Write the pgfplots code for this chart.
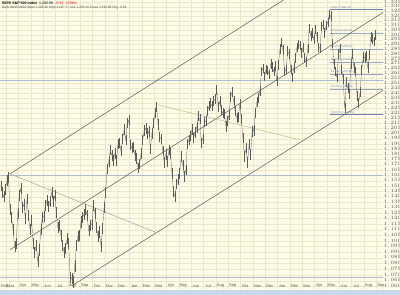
\documentclass[border=0pt]{standalone}
\usepackage{pgfplots}
\pgfplotsset{compat=1.18}
\usepackage{fontspec}
\setmainfont{Liberation Sans}
\definecolor{cream}{HTML}{FDFCE8}
\definecolor{gridc}{HTML}{ECE7C8}
\definecolor{hline}{HTML}{B0BCCB}
\definecolor{fibd}{HTML}{7080B0}
\definecolor{fibl}{HTML}{9AA6C2}
\definecolor{bars}{HTML}{5C5C58}
\definecolor{fanA}{HTML}{A0B4A8}
\definecolor{fanB}{HTML}{C4C894}
\definecolor{band}{HTML}{C9D9EC}
\begin{document}
\begin{tikzpicture}[x=1pt,y=1pt]
\useasboundingbox (0,0) rectangle (400,295);
\fill[cream] (0,0) rectangle (400,295);
\fill[band] (0,0) rectangle (400,5);
\begin{axis}[
  at={(0pt,6pt)}, anchor=south west,
  scale only axis, width=383pt, height=289pt,
  xmin=0.5, xmax=31.54, ymode=log, ymin=1058, ymax=1337.5,
  axis line style={draw=none},
  major tick length=0pt, minor tick length=0pt,
  xtick={1,...,31},
  xticklabels={Mar,Apr,May,Jun,Jul,Aug,Sep,Oct,Nov,Dec,Jan,Feb,Mar,Apr,May,Jun,Jul,Aug,Sep,Oct,Nov,Dec,Jan,Feb,Mar,Apr,May,Jun,Jul,Aug,Sep},
  xticklabel style={anchor=south, xshift=4.5pt, inner sep=1pt, font=\fontsize{4}{4.5}\selectfont, text=black!65},
  extra x ticks={0.52}, extra x tick labels={Feb}, extra x tick style={xmajorgrids=false},
  ytick={1060,1065,...,1335},
  yticklabel pos=right,
  yticklabel style={anchor=west, inner sep=0.6pt, font=\fontsize{3.4}{3.8}\selectfont, text=black!70},
  yticklabel={\pgfkeys{/pgf/fpu=true}\pgfmathparse{exp(\tick)}\pgfmathprintnumber[fixed,precision=0,1000 sep={,}]{\pgfmathresult}},
  xmajorgrids, ymajorgrids, grid style={gridc, line width=0.4pt},
  clip=true,
]
% horizontal support lines
\addplot[hline, line width=1pt] coordinates {(0.5,1252.4) (31.6,1252.4)};
\addplot[hline, line width=1pt] coordinates {(0.5,1159.6) (31.6,1159.6)};
\addplot[hline, line width=1pt] coordinates {(0.5,1068) (31.6,1068)};
% fibonacci lines
\addplot[fibd, line width=0.9pt] coordinates {(27.24,1326.7) (31.6,1326.7)};
\addplot[fibl, line width=0.7pt] coordinates {(27.24,1302.2) (31.6,1302.2)};
\addplot[fibl, line width=0.7pt] coordinates {(27.24,1285.4) (31.6,1285.4)};
\addplot[fibl, line width=0.7pt] coordinates {(27.24,1271.9) (31.6,1271.9)};
\addplot[fibl, line width=0.7pt] coordinates {(27.24,1259.6) (31.6,1259.6)};
\addplot[fibl, line width=0.7pt] coordinates {(27.24,1244.3) (31.6,1244.3)};
\addplot[fibd, line width=0.9pt] coordinates {(27.24,1218.5) (31.6,1218.5)};
% channel lines
\addplot[black!65, line width=0.5pt] coordinates {(1.31,1161.5) (24.81,1348.8)};
\addplot[black!65, line width=0.5pt] coordinates {(1.31,1092.1) (31.86,1326.7)};
\addplot[black!65, line width=0.5pt] coordinates {(6.33,1060.7) (31.86,1245.3)};
\addplot[fanA, line width=0.6pt] coordinates {(1.31,1161.5) (13.22,1107.2)};
\addplot[fanB, line width=0.6pt] coordinates {(13.3,1228.4) (24.8,1194.0)};
% price
\addplot[bars, line width=0.28pt, no marks, error bars/.cd, y dir=both, y fixed=5, error mark=none, error bar style={bars, line width=0.35pt}] coordinates {
(0.56,1150) (0.69,1144) (0.81,1140) (0.94,1147)
(1.06,1155) (1.19,1158) (1.31,1128) (1.44,1121) (1.56,1110) (1.69,1095) (1.81,1098) (1.94,1125)
(2.06,1141) (2.19,1148) (2.31,1130) (2.44,1133) (2.56,1120) (2.69,1138) (2.81,1123) (2.94,1110)
(3.06,1118) (3.19,1098) (3.31,1090) (3.44,1096) (3.56,1082) (3.69,1092) (3.81,1110) (3.94,1121)
(4.06,1122) (4.19,1132) (4.31,1137) (4.44,1131) (4.56,1136) (4.69,1144) (4.81,1136) (4.94,1141)
(5.06,1126) (5.19,1112) (5.31,1114) (5.44,1105) (5.56,1096) (5.69,1090) (5.81,1093) (5.94,1102)
(6.06,1098) (6.19,1068) (6.31,1067) (6.44,1064) (6.56,1078) (6.69,1096) (6.81,1104) (6.94,1105)
(7.06,1117) (7.19,1121) (7.31,1124) (7.44,1128) (7.56,1123) (7.69,1109) (7.81,1114) (7.94,1115)
(8.06,1132) (8.19,1125) (8.31,1112) (8.44,1104) (8.56,1108) (8.69,1095) (8.81,1111) (8.94,1130)
(9.06,1144) (9.19,1166) (9.31,1173) (9.44,1184) (9.56,1179) (9.69,1174) (9.81,1181) (9.94,1174)
(10.06,1190) (10.19,1191) (10.31,1183) (10.44,1195) (10.56,1204) (10.69,1194) (10.81,1210) (10.94,1213)
(11.06,1189) (11.19,1186) (11.31,1187) (11.44,1179) (11.56,1176) (11.69,1167) (11.81,1171) (11.94,1181)
(12.06,1194) (12.19,1203) (12.31,1205) (12.44,1200) (12.56,1202) (12.69,1185) (12.81,1200) (12.94,1210)
(13.06,1220) (13.19,1226) (13.31,1209) (13.44,1197) (13.56,1195) (13.69,1183) (13.81,1172) (13.94,1180)
(14.06,1173) (14.19,1184) (14.31,1181) (14.44,1162) (14.56,1145) (14.69,1140) (14.81,1152) (14.94,1156)
(15.06,1162) (15.19,1178) (15.31,1170) (15.44,1159) (15.56,1165) (15.69,1190) (15.81,1194) (15.94,1198)
(16.06,1204) (16.19,1196) (16.31,1201) (16.44,1206) (16.56,1217) (16.69,1214) (16.81,1191) (16.94,1195)
(17.06,1211) (17.19,1212) (17.31,1222) (17.44,1227) (17.56,1230) (17.69,1227) (17.81,1232) (17.94,1234)
(18.06,1243) (18.19,1226) (18.31,1232) (18.44,1223) (18.56,1220) (18.69,1219) (18.81,1207) (18.94,1212)
(19.06,1218) (19.19,1236) (19.31,1241) (19.44,1232) (19.56,1222) (19.69,1215) (19.81,1216) (19.94,1229)
(20.06,1214) (20.19,1196) (20.31,1178) (20.44,1186) (20.56,1172) (20.69,1190) (20.81,1180) (20.94,1202)
(21.06,1203) (21.19,1220) (21.31,1231) (21.44,1235) (21.56,1242) (21.69,1262) (21.81,1265) (21.94,1257)
(22.06,1264) (22.19,1263) (22.31,1259) (22.44,1270) (22.56,1267) (22.69,1262) (22.81,1268) (22.94,1252)
(23.06,1269) (23.19,1285) (23.31,1292) (23.44,1284) (23.56,1262) (23.69,1264) (23.81,1283) (23.94,1280)
(24.06,1264) (24.19,1256) (24.31,1266) (24.44,1276) (24.56,1287) (24.69,1290) (24.81,1289) (24.94,1281)
(25.06,1287) (25.19,1276) (25.31,1272) (25.44,1286) (25.56,1307) (25.69,1299) (25.81,1302) (25.94,1295)
(26.06,1306) (26.19,1298) (26.31,1287) (26.44,1286) (26.56,1309) (26.69,1311) (26.81,1302) (26.94,1310)
(27.06,1313) (27.19,1322) (27.31,1320) (27.44,1291) (27.56,1270) (27.69,1262) (27.81,1256) (27.94,1280)
(28.06,1286) (28.19,1264) (28.31,1254) (28.44,1225) (28.56,1251) (28.69,1245) (28.81,1239) (28.94,1270)
(29.06,1280) (29.19,1266) (29.31,1262) (29.44,1237) (29.56,1230) (29.69,1241) (29.81,1264) (29.94,1277)
(30.06,1276) (30.19,1278) (30.31,1266) (30.44,1279) (30.56,1298) (30.69,1296) (30.81,1293) (30.94,1300)
};
% fib labels
\node[anchor=south west, inner sep=0.3pt, font=\fontsize{2.8}{3}\selectfont, text=fibd] at (axis cs:27.3,1326.7) {0.0\% (1,326.70)};
\node[anchor=south west, inner sep=0.3pt, font=\fontsize{2.8}{3}\selectfont, text=fibd] at (axis cs:27.3,1302.2) {23.6\% (1,301.35)};
\node[anchor=south west, inner sep=0.3pt, font=\fontsize{2.8}{3}\selectfont, text=fibd] at (axis cs:27.3,1285.4) {38.2\% (1,285.67)};
\node[anchor=south west, inner sep=0.3pt, font=\fontsize{2.8}{3}\selectfont, text=fibd] at (axis cs:27.3,1271.9) {50.0\% (1,273.00)};
\node[anchor=south west, inner sep=0.3pt, font=\fontsize{2.8}{3}\selectfont, text=fibd] at (axis cs:27.3,1259.6) {61.8\% (1,260.32)};
\node[anchor=south west, inner sep=0.3pt, font=\fontsize{2.8}{3}\selectfont, text=fibd] at (axis cs:27.3,1244.3) {76.4\% (1,244.65)};
\node[anchor=south west, inner sep=0.3pt, font=\fontsize{2.8}{3}\selectfont, text=fibd] at (axis cs:27.3,1218.5) {100.0\% (1,219.29)};
% header
\node[anchor=north west, inner sep=0pt, font=\fontsize{3.6}{4}\selectfont] at (rel axis cs:0.005,0.995) {\textbf{\$SPX S\&P 500 Index}\ \ 1,292.88\ \ \textcolor{red}{-0.54\ \ -0.04\%}};
\node[anchor=north west, inner sep=0pt, font=\fontsize{3.2}{3.6}\selectfont, text=black!70] at (rel axis cs:0.005,0.978) {Daily 08/25/2006 Open 1,295.92 High 1,297.77 Low 1,285.15 Close 1,292.88 Chg -0.54};
\end{axis}
\end{tikzpicture}
\end{document}
